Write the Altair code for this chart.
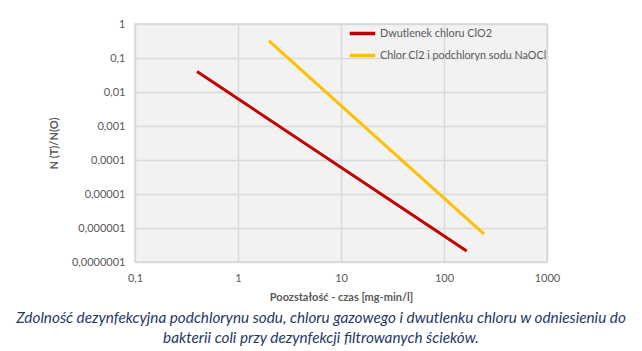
import altair as alt
import pandas as pd

# Data
series_names = ["Dwutlenek chloru ClO2", "Chlor Cl2 i podchloryn sodu NaOCl"]
clo2_x = [0.4, 166]
clo2_y = [0.04, 2.1e-7]
cl2_x = [2.0, 245]
cl2_y = [0.32, 6.6e-7]

x_ticks = [0.1, 1, 10, 100, 1000]
x_labels = ["0,1", "1", "10", "100", "1000"]
y_ticks = [1, 0.1, 0.01, 0.001, 0.0001, 0.00001, 0.000001, 0.0000001]
y_labels = ["1", "0,1", "0,01", "0,001", "0,0001", "0,00001", "0,000001", "0,0000001"]

x_title = "Poozstałość - czas [mg-min/l]"
y_title = "N (T)/N(O)"
caption = [
    "Zdolność dezynfekcyjna podchlorynu sodu, chloru gazowego i dwutlenku chloru w odniesieniu do",
    "bakterii coli przy dezynfekcji filtrowanych ścieków.",
]
colors = ["#c00000", "#ffc000"]

rows = []
for i, (xs, ys) in enumerate([(clo2_x, clo2_y), (cl2_x, cl2_y)]):
    for j, (x, y) in enumerate(zip(xs, ys)):
        rows.append({"series": series_names[i], "x": x, "y": y, "order": j})
df = pd.DataFrame(rows)


def label_expr(ticks, labels):
    expr = "''"
    for t, l in reversed(list(zip(ticks, labels))):
        expr = f"(abs(datum.value - {t!r}) < {t!r} * 0.001 ? '{l}' : {expr})"
    return expr


FONT = "Lato"
GRAY = "#595959"

lines = alt.Chart(df).mark_line(strokeWidth=3, clip=True).encode(
    x=alt.X(
        "x:Q",
        scale=alt.Scale(type="log", domain=[0.1, 1000]),
        axis=alt.Axis(
            values=x_ticks,
            labelExpr=label_expr(x_ticks, x_labels),
            labelFlush=False,
            title=x_title,
            titleFontWeight="bold",
            titleFontSize=11,
            titleColor=GRAY,
            titlePadding=8,
            labelFontSize=11,
            labelColor=GRAY,
            labelPadding=10,
            ticks=False,
            domain=False,
            grid=True,
            gridColor="#d9d9d9",
            gridWidth=1.5,
            labelFont=FONT,
            titleFont=FONT,
        ),
    ),
    y=alt.Y(
        "y:Q",
        scale=alt.Scale(type="log", domain=[1e-7, 1]),
        axis=alt.Axis(
            values=y_ticks,
            labelExpr=label_expr(y_ticks, y_labels),
            labelFlush=False,
            title=y_title,
            titleFontWeight="bold",
            titleFontSize=11,
            titleColor=GRAY,
            titlePadding=12,
            labelFontSize=11,
            labelColor=GRAY,
            labelPadding=10,
            ticks=False,
            domain=False,
            grid=True,
            gridColor="#d9d9d9",
            gridWidth=1.5,
            labelFont=FONT,
            titleFont=FONT,
        ),
    ),
    color=alt.Color(
        "series:N",
        scale=alt.Scale(domain=series_names, range=colors),
        legend=alt.Legend(
            title=None,
            orient="none",
            legendX=213,
            legendY=-5,
            symbolType="stroke",
            symbolSize=650,
            symbolStrokeWidth=3.5,
            labelFontSize=10.8,
            labelColor=GRAY,
            labelFont=FONT,
            labelLimit=300,
            rowPadding=-9,
            symbolOffset=0,
            labelOffset=3,
        ),
    ),
    order="order:Q",
)

caption_layers = []
for i, line in enumerate(caption):
    caption_layers.append(
        alt.Chart(pd.DataFrame({"text": [line]})).mark_text(
            font=FONT,
            fontStyle="italic",
            fontSize=15.3,
            color="#1f3864",
            align="center",
            baseline="middle",
        ).encode(
            text="text:N",
            x=alt.value(186),
            y=alt.value(294 + 20 * i),
        )
    )

chart = alt.layer(lines, *caption_layers).properties(
    width=412,
    height=238,
    padding={"left": 135, "top": 24, "right": 95, "bottom": 89},
    autosize=alt.AutoSizeParams(type="none"),
    background="white",
).configure_view(fill="#f2f2f2", stroke="#d9d9d9", strokeWidth=1.5)

chart.save("out.html", embed_options={"renderer": "svg", "actions": False})
